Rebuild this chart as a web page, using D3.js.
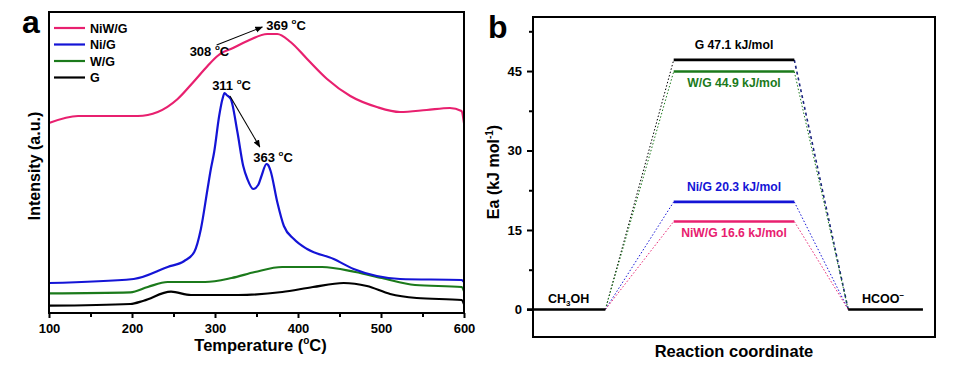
<!DOCTYPE html>
<html><head><meta charset="utf-8">
<script src="https://cdn.jsdelivr.net/npm/d3@7"></script>
<style>
body{margin:0;background:#fff;}
text{font-family:"Liberation Sans",Arial,sans-serif;font-weight:bold;}
</style></head>
<body><svg id="c" width="965" height="366"></svg>
<script>
// ---------- Panel a data (Temperature °C, intensity a.u.) ----------
const seriesNames = ["NiW/G", "Ni/G", "W/G", "G"];
const seriesColors = ["#e8206f", "#1414d6", "#1b7a1b", "#000000"];
const tNiWG = [100,135,207,231,255,274,291,303,308,319,339,363,375,391,411,435,463,495,523,555,583,597,600];
const vNiWG = [190,197,197,201,214,231,247,257,260,264,272,279,279,271,254,234,217,206,201,203,205,202,190];
const tNiG = [100,202,243,263,275,283,291,295,299,305,309,311.5,314,319,327,334,339,346,352,356,362,364,367,375,383,395,411,443,467,495,523,597,600];
const vNiG = [30,34,46,52,61,84,124,144,161,197,214,220,218,214,181,147,134,124,128,137,149,148,142,111,87,74,64,54,44,37,34,33,31];
const tWG = [100,198,219,243,288,320,348,381,429,469,501,541,597,600];
const vWG = [19.7,20.7,26,31,31,35,41,46,46,41,35,28,26,22];
const tG = [100,198,214,247,271,328,381,418,455,483,511,543,597,600];
const vG = [7.3,9,12.3,21.3,18,18,21,26,30,27,19,15,13,9];
const xTicksA = [100,200,300,400,500,600];
const peakLabels = ["308 °C","369 °C","311 °C","363 °C"];

// ---------- Panel b data ----------
const levelNames = ["G","W/G","Ni/G","NiW/G"];
const levelEnergies = [47.1,44.9,20.3,16.6];
const levelColors = ["#000000","#1b7a1b","#1414d6","#e8206f"];
const stageStart = [-0.15, 3.5, 7.84];
const stageEnd = [1.8, 6.5, 9.7];
const yTicksB = [0,15,30,45];
const yMinorB = [7.5,22.5,37.5,52.5];

const svg = d3.select("#c");

// ================= Panel a =================
const L = 49, R = 464, T = 12, B = 313;
const xA = d3.scaleLinear().domain([100,600]).range([L,R]);
const yA = d3.scaleLinear().domain([0,301]).range([B,T]);
const gA = svg.append("g");

const seriesData = [
  d3.zip(tNiWG,vNiWG), d3.zip(tNiG,vNiG), d3.zip(tWG,vWG), d3.zip(tG,vG)
];
const line = d3.line().x(d=>xA(d[0])).y(d=>yA(d[1])).curve(d3.curveMonotoneX);
[3,2,1,0].forEach(i=>{
  gA.append("path").attr("d",line(seriesData[i])).attr("fill","none")
    .attr("stroke",seriesColors[i]).attr("stroke-width",2.2);
});

// box
gA.append("rect").attr("x",L).attr("y",T).attr("width",R-L).attr("height",B-T)
  .attr("fill","none").attr("stroke","#000").attr("stroke-width",2);

// x axis
const axA = d3.axisBottom(xA).tickValues(xTicksA).tickSize(5).tickSizeOuter(0).tickPadding(6);
const gx = gA.append("g").attr("transform",`translate(0,${B})`).call(axA);
gx.select(".domain").remove();
gx.selectAll("line").attr("stroke-width",2);
gx.selectAll("text").attr("font-size",13).attr("fill","#000").attr("font-family","Liberation Sans,Arial").attr("font-weight","bold");
const minorA = gA.append("g").attr("transform",`translate(0,${B})`)
  .call(d3.axisBottom(xA).tickValues([150,250,350,450,550]).tickSize(4).tickFormat(""));
minorA.select(".domain").remove();
minorA.selectAll("line").attr("stroke-width",2);

// axis titles
const tt = gA.append("text").attr("x",(L+R)/2+4).attr("y",351).attr("text-anchor","middle").attr("font-size",16.5);
tt.append("tspan").text("Temperature (");
tt.append("tspan").text("o").attr("font-size",10).attr("dy",-7);
tt.append("tspan").text("C)").attr("dy",7);
gA.append("text").attr("transform","translate(40,166) rotate(-90)").attr("text-anchor","middle")
  .attr("font-size",16).text("Intensity (a.u.)");
gA.append("text").attr("x",22).attr("y",33).attr("font-size",32).text("a");

// legend
seriesNames.forEach((n,i)=>{
  const y = 28 + i*16.5;
  gA.append("line").attr("x1",54).attr("x2",85).attr("y1",y).attr("y2",y)
    .attr("stroke",seriesColors[i]).attr("stroke-width",2.2);
  gA.append("text").attr("x",90).attr("y",y+4.5).attr("font-size",12.5).text(n);
});

// peak annotations
function degLabel(x,y,str){
  const parts = str.split(" °C");
  const t = gA.append("text").attr("x",x).attr("y",y).attr("font-size",13);
  t.append("tspan").text(parts[0]+" ");
  t.append("tspan").text("o").attr("font-size",8).attr("dy",-6);
  t.append("tspan").text("C").attr("dy",6);
}
degLabel(xA(308)-32, yA(257), peakLabels[0]);
degLabel(xA(369)-6, yA(283), peakLabels[1]);
degLabel(xA(311)-12, yA(223), peakLabels[2]);
degLabel(xA(363)-14, yA(151), peakLabels[3]);

svg.append("defs").append("marker").attr("id","ah").attr("viewBox","0 0 10 10")
  .attr("refX",9).attr("refY",5).attr("markerWidth",7).attr("markerHeight",7).attr("orient","auto")
  .append("path").attr("d","M0,1 L10,5 L0,9 z").attr("fill","#000");
gA.append("line").attr("x1",xA(302)).attr("y1",yA(268)).attr("x2",xA(357)).attr("y2",yA(286))
  .attr("stroke","#000").attr("stroke-width",1.1).attr("marker-end","url(#ah)");
gA.append("line").attr("x1",xA(318)).attr("y1",yA(217)).attr("x2",xA(354)).attr("y2",yA(166))
  .attr("stroke","#000").attr("stroke-width",1.1).attr("marker-end","url(#ah)");

// ================= Panel b =================
const L2 = 533, R2 = 935, T2 = 17, B2 = 337;
const xB = d3.scaleLinear().domain([0,10]).range([L2,R2]);
const yB = d3.scaleLinear().domain([-5.2,55.2]).range([B2,T2]);
const gB = svg.append("g");

gB.append("rect").attr("x",L2).attr("y",T2).attr("width",R2-L2).attr("height",B2-T2)
  .attr("fill","none").attr("stroke","#000").attr("stroke-width",2);

const ay = gB.append("g").attr("transform",`translate(${L2},0)`)
  .call(d3.axisLeft(yB).tickValues(yTicksB).tickSize(6).tickPadding(5));
ay.select(".domain").remove();
ay.selectAll("line").attr("stroke-width",2);
ay.selectAll("text").attr("font-size",13).attr("fill","#000").attr("font-family","Liberation Sans,Arial").attr("font-weight","bold");
const ayMin = gB.append("g").attr("transform",`translate(${L2},0)`)
  .call(d3.axisLeft(yB).tickValues(yMinorB).tickSize(4).tickFormat(""));
ayMin.select(".domain").remove();
ayMin.selectAll("line").attr("stroke-width",2);

// connectors
levelEnergies.forEach((e,i)=>{
  gB.append("line").attr("x1",xB(stageEnd[0])).attr("y1",yB(0)).attr("x2",xB(stageStart[1])).attr("y2",yB(e))
    .attr("stroke",levelColors[i]).attr("stroke-width",1).attr("stroke-dasharray","1.5,2");
  gB.append("line").attr("x1",xB(stageEnd[1])).attr("y1",yB(e)).attr("x2",xB(stageStart[2])).attr("y2",yB(0))
    .attr("stroke",i===0?"#1a237e":levelColors[i]).attr("stroke-width",i===0?1.6:1)
    .attr("stroke-dasharray",i===0?"3,3":"1.5,2");
});
// levels
levelEnergies.forEach((e,i)=>{
  gB.append("line").attr("x1",xB(stageStart[1])).attr("x2",xB(stageEnd[1])).attr("y1",yB(e)).attr("y2",yB(e))
    .attr("stroke",levelColors[i]).attr("stroke-width",2.6);
});
[0,2].forEach(s=>{
  gB.append("line").attr("x1",xB(stageStart[s])).attr("x2",xB(stageEnd[s])).attr("y1",yB(0)).attr("y2",yB(0))
    .attr("stroke","#000").attr("stroke-width",2.6);
});
// level labels
const lblOffset = [-11, 15, -11, 15];
levelEnergies.forEach((e,i)=>{
  gB.append("text").attr("x",xB(5)).attr("y",yB(e)+lblOffset[i]).attr("text-anchor","middle")
    .attr("font-size",12.2).attr("fill",levelColors[i])
    .text(`${levelNames[i]} ${e.toFixed(1)} kJ/mol`);
});
const ch = gB.append("text").attr("x",548).attr("y",yB(0)-6).attr("font-size",12.5);
ch.append("tspan").text("CH");
ch.append("tspan").text("3").attr("font-size",8).attr("dy",3);
ch.append("tspan").text("OH").attr("dy",-3);
const hc = gB.append("text").attr("x",862).attr("y",yB(0)-6).attr("font-size",12.5);
hc.append("tspan").text("HCOO");
hc.append("tspan").text("−").attr("font-size",8).attr("dy",-5);

gB.append("text").attr("x",(L2+R2)/2).attr("y",357).attr("text-anchor","middle").attr("font-size",16.5).text("Reaction coordinate");
const ea = gB.append("text").attr("transform","translate(499,172) rotate(-90)").attr("text-anchor","middle").attr("font-size",16);
ea.append("tspan").text("Ea (kJ mol");
ea.append("tspan").text("-1").attr("font-size",10).attr("dy",-6);
ea.append("tspan").text(")").attr("dy",6);
gB.append("text").attr("x",488).attr("y",38).attr("font-size",32).text("b");
</script></body></html>
